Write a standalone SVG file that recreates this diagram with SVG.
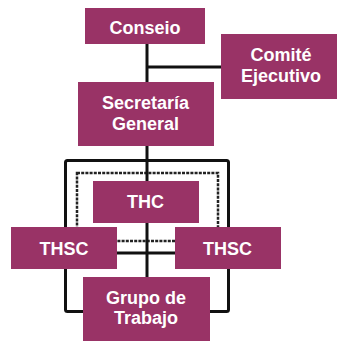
<svg xmlns="http://www.w3.org/2000/svg" width="337" height="341" viewBox="0 0 337 341">
<style>
.box{fill:#993366}
.t{font-family:"Liberation Sans",Arial,sans-serif;font-weight:bold;font-size:18px;fill:#fff;text-anchor:middle}
.ln{stroke:#111;stroke-width:3;fill:none}
.dash{stroke:#222;stroke-width:2.5;fill:none;stroke-dasharray:3,1.2}
</style>
<rect width="337" height="341" fill="#fff"/>
<g id="connectors">
<rect class="ln" x="65.5" y="160.5" width="163" height="151" rx="2"/>
<rect class="dash" x="77" y="173" width="141" height="68"/>
<line class="ln" x1="147" y1="44" x2="147" y2="277"/>
<line class="ln" x1="147" y1="67" x2="221" y2="67"/>
<line class="ln" x1="65" y1="253" x2="229" y2="253"/>
</g>
<g id="conseio"><rect class="box" x="85" y="8" width="120" height="36"/><text class="t" x="145" y="34">Conseio</text></g>
<g id="comite"><rect class="box" x="221" y="34" width="116" height="65"/><text class="t" x="281" y="61">Comité</text><text class="t" x="281" y="82">Ejecutivo</text></g>
<g id="secretaria"><rect class="box" x="78" y="82" width="136" height="64"/><text class="t" x="145.5" y="109">Secretaría</text><text class="t" x="145.5" y="130">General</text></g>
<g id="thc"><rect class="box" x="93" y="181" width="106" height="42"/><text class="t" x="145.5" y="208">THC</text></g>
<g id="thsc-left"><rect class="box" x="11" y="227" width="106" height="42"/><text class="t" x="64" y="255">THSC</text></g>
<g id="thsc-right"><rect class="box" x="175" y="227" width="106" height="42"/><text class="t" x="227.5" y="255">THSC</text></g>
<g id="grupo"><rect class="box" x="83" y="277" width="127" height="64"/><text class="t" x="146" y="304">Grupo de</text><text class="t" x="146" y="324">Trabajo</text></g>
</svg>
